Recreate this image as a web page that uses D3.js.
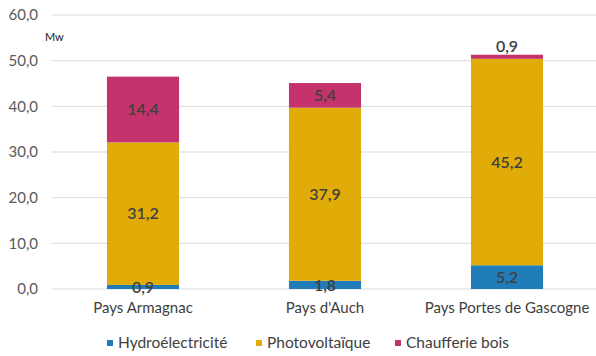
<!DOCTYPE html>
<html><head><meta charset="utf-8">
<script src="https://cdn.jsdelivr.net/npm/d3@7"></script>
<style>body{margin:0;background:#fff}svg{display:block;font-family:Lato,"Open Sans",sans-serif}</style>
</head><body>
<svg id="c" width="596" height="356"></svg>
<script>
const categories = ["Pays Armagnac", "Pays d'Auch", "Pays Portes de Gascogne"];
const seriesNames = ["Hydroélectricité", "Photovoltaïque", "Chaufferie bois"];
const hydro = [0.9, 1.8, 5.2];
const photo = [31.2, 37.9, 45.2];
const bois = [14.4, 5.4, 0.9];
const yTicks = [0, 10, 20, 30, 40, 50, 60];
const colors = ["#1f7cb8", "#e2ac08", "#c5336c"];
const unitLabel = "Mw";

const svg = d3.select("#c");
const fmt = v => d3.format(".1f")(v).replace(".", ",");
const rows = categories.map((c, i) => ({cat: c, s0: hydro[i], s1: photo[i], s2: bois[i]}));
const stack = d3.stack().keys(["s0", "s1", "s2"])(rows);

const x = d3.scaleBand().domain(categories).range([52, 598]).paddingInner(0.604).paddingOuter(0.302);
const y = d3.scaleLinear().domain([0, 60]).range([289, 15]);

// grid
svg.append("g").selectAll("line").data(yTicks).join("line")
  .attr("x1", 52).attr("x2", 596)
  .attr("y1", d => y(d)).attr("y2", d => y(d))
  .attr("stroke", "#d9d9d9").attr("stroke-width", 1);

// y axis labels
const yAxis = d3.axisLeft(y).tickValues(yTicks).tickFormat(fmt).tickSize(0).tickPadding(0);
const ga = svg.append("g").attr("transform", "translate(38,0)").call(yAxis);
ga.select(".domain").remove();
ga.selectAll("text").attr("fill", "#595959").style("font-size", "15px").style("font-family", "Lato");

svg.append("text").attr("x", 45).attr("y", 41).text(unitLabel)
  .attr("fill", "#222").style("font-size", "11px");

// bars
const layers = svg.append("g").selectAll("g").data(stack).join("g")
  .attr("fill", (d, i) => colors[i]);
layers.selectAll("rect").data(d => d).join("rect")
  .attr("x", d => x(d.data.cat)).attr("width", x.bandwidth())
  .attr("y", d => y(d[1])).attr("height", d => y(d[0]) - y(d[1]));

// labels
stack.forEach((layer, li) => {
  layer.forEach(d => {
    const v = d[1] - d[0];
    const isTopSmall = li === stack.length - 1 && v < 2;
    const cy = isTopSmall ? y(d[1]) - 8 : (y(d[0]) + y(d[1])) / 2;
    svg.append("text")
      .attr("x", x(d.data.cat) + x.bandwidth() / 2)
      .attr("y", cy).attr("dy", "0.36em")
      .attr("text-anchor", "middle")
      .attr("fill", "#404040")
      .style("font-size", "16px").style("font-weight", "600")
      .text(fmt(v));
  });
});

// x axis labels
const xAxis = d3.axisBottom(x).tickSize(0).tickPadding(0);
const gx = svg.append("g").attr("transform", "translate(0,302)").call(xAxis);
gx.select(".domain").remove();
gx.selectAll("text").attr("fill", "#404040").style("font-size", "15px").style("font-family", "Lato").attr("dy", "0.71em");

// legend
const legX = [107, 256, 395];
const lg = svg.append("g").selectAll("g").data(seriesNames).join("g")
  .attr("transform", (d, i) => `translate(${legX[i]},343)`);
lg.append("rect").attr("x", 0).attr("y", -3).attr("width", 6).attr("height", 6).attr("fill", (d, i) => colors[i]);
lg.append("text").attr("x", 11).attr("dy", "0.35em").text(d => d)
  .attr("fill", "#404040").style("font-size", "15.5px");
</script>
</body></html>
